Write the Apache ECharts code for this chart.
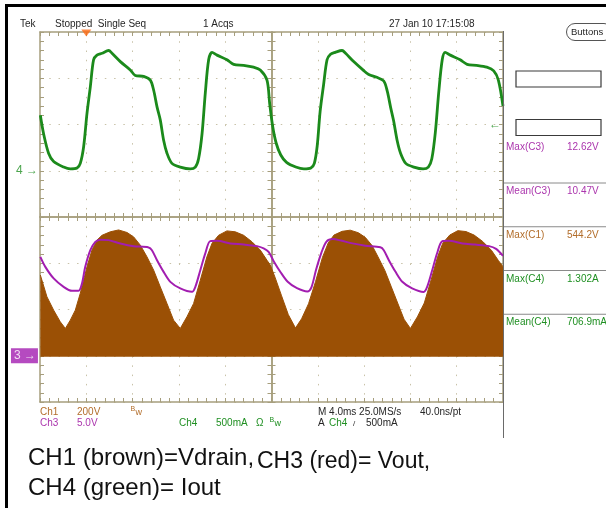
<!DOCTYPE html>
<html>
<head>
<meta charset="utf-8">
<title>Tek capture</title>
<script src="https://cdn.jsdelivr.net/npm/echarts@6.0.0/dist/echarts.min.js"></script>
<style>
  html, body { margin: 0; padding: 0; background: #ffffff; }
  #chart { width: 606px; height: 508px; }
</style>
</head>
<body>
<div id="chart"></div>
<script>
// Time base: 4 ms/div, 10 divisions, trigger at t = 0
const T_MIN = -4;
const T_MAX = 36;

// CH1 drain voltage envelope (V), 200 V/div
const ch1Envelope = [
  [-3.97,349],[-3.40,255],[-2.82,197],[-2.25,147],[-1.81,118],[-1.38,154],[-0.95,197],[-0.52,270],
  [0.06,385],[0.49,457],[0.92,500],[1.36,521],[2.07,536],[2.79,544],[3.52,533],[4.09,514],
  [4.67,478],[5.24,428],[5.82,370],[6.39,298],[6.97,226],[7.54,154],[8.12,118],[8.70,169],
  [9.27,226],[9.85,327],[10.42,428],[10.86,486],[11.43,521],[12.15,540],[12.87,536],[13.59,521],
  [14.31,493],[15.03,457],[15.61,413],[15.90,392],[16.30,340],[16.85,262],[17.45,178],[18.07,120],
  [18.60,160],[19.20,225],[19.80,320],[20.40,425],[20.90,488],[21.40,522],[22.10,538],[22.80,543],
  [23.50,532],[24.10,512],[24.70,476],[25.20,428],[25.80,368],[26.35,298],[26.90,228],[27.45,158],
  [28.00,118],[28.60,168],[29.20,228],[29.80,330],[30.35,428],[30.80,487],[31.40,522],[32.10,541],
  [32.80,537],[33.50,522],[34.25,494],[35.00,456],[35.60,412],[36.00,385]
];

// CH3 output voltage (V), 5 V/div
const ch3Vout = [
  [-3.97,10.69],[-3.54,9.61],[-2.82,8.36],[-1.96,7.45],[-1.24,7.02],[-0.67,7.02],[-0.37,7.82],[-0.09,9.61],
  [0.35,11.41],[0.78,12.31],[1.21,12.55],[1.93,12.50],[2.94,12.14],[4.09,11.85],[5.38,11.71],[5.67,11.41],
  [6.11,10.33],[6.68,9.07],[7.26,7.99],[8.12,7.28],[9.13,6.91],[9.42,7.45],[9.85,9.25],[10.28,11.06],
  [10.71,12.39],[11.29,12.42],[12.44,12.14],[13.59,12.03],[14.75,11.85],[15.32,11.60],[15.75,11.23],
  [16.20,10.20],[16.80,9.00],[17.40,8.00],[18.20,7.30],[19.10,6.95],[19.45,7.40],[19.85,9.30],[20.30,11.10],
  [20.75,12.35],[21.30,12.62],[22.00,12.45],[23.00,12.15],[24.10,11.90],[25.40,11.72],[25.70,11.40],
  [26.15,10.30],[26.70,9.10],[27.30,8.00],[28.15,7.28],[29.15,6.90],[29.45,7.45],[29.90,9.30],[30.30,11.05],
  [30.75,12.38],[31.30,12.42],[32.50,12.14],[33.60,12.02],[34.80,11.85],[35.40,11.55],[36.00,10.80]
];

// CH4 output current (A), 500 mA/div
const ch4Iout = [
  [-3.97,0.60],[-3.69,0.40],[-3.26,0.19],[-2.82,0.10],[-1.96,0.04],[-1.38,0.02],[-0.80,0.03],[-0.52,0.08],
  [-0.23,0.26],[0.06,0.62],[0.35,0.91],[0.63,1.20],[0.92,1.25],[1.36,1.27],[1.93,1.30],[2.22,1.27],
  [2.94,1.18],[3.80,1.09],[4.23,1.03],[4.95,1.02],[5.53,0.98],[5.82,0.87],[6.11,0.69],[6.39,0.55],
  [6.68,0.33],[6.97,0.19],[7.40,0.08],[8.12,0.04],[8.98,0.02],[9.42,0.04],[9.70,0.13],[10.00,0.40],
  [10.28,0.84],[10.57,1.20],[10.86,1.28],[11.29,1.25],[12.15,1.20],[12.73,1.15],[13.59,1.14],[14.45,1.12],
  [15.03,1.09],[15.61,0.98],[15.84,0.73],[16.10,0.48],[16.40,0.30],[16.80,0.17],[17.30,0.09],[18.10,0.04],
  [18.80,0.02],[19.40,0.03],[19.70,0.08],[19.95,0.27],[20.20,0.64],[20.50,0.93],[20.80,1.20],[21.10,1.26],
  [21.50,1.28],[22.10,1.30],[22.40,1.27],[23.10,1.18],[23.90,1.09],[24.40,1.04],[25.10,1.01],[25.70,0.97],
  [26.00,0.86],[26.30,0.68],[26.55,0.54],[26.85,0.33],[27.15,0.19],[27.60,0.08],[28.30,0.04],[29.10,0.02],
  [29.55,0.04],[29.85,0.13],[30.15,0.41],[30.45,0.85],[30.75,1.20],[31.00,1.28],[31.45,1.25],[32.30,1.20],
  [32.90,1.15],[33.70,1.14],[34.60,1.12],[35.20,1.08],[35.60,0.98],[36.00,0.70]
];

// Trigger: channel 4, rising edge, 500 mA
const triggerLevel = 0.5;

// Measurement readouts
const measNames  = ['Max(C3)', 'Mean(C3)', 'Max(C1)', 'Max(C4)', 'Mean(C4)'];
const measValues = ['12.62V', '10.47V', '544.2V', '1.302A', '706.9mA'];

// Status / scale readouts
const headerTexts = ['Tek', 'Stopped  Single Seq', '1 Acqs', '27 Jan 10 17:15:08'];
const captionTexts = ['CH1 (brown)=Vdrain,', 'CH3 (red)= Vout,', 'CH4 (green)= Iout'];

const C_BROWN = '#9b5005';
const C_BROWN_TXT = '#b26d2a';
const C_PURPLE = '#a21db0';
const C_PURPLE_TXT = '#ab35ad';
const C_GREEN = '#1b8a1b';
const C_GREEN_TXT = '#1f8f22';
const C_TXT = '#262626';
const FRAME = '#a69e7d';
const DOTS = '#c8c2a8';
const SMALL = '10px "Liberation Sans", Arial, sans-serif';
const measColors = [C_PURPLE_TXT, C_PURPLE_TXT, C_BROWN_TXT, C_GREEN_TXT, C_GREEN_TXT];

const chart = echarts.init(document.getElementById('chart'), null, { renderer: 'canvas' });

function tickStyle(inside) {
  return {
    axisTick: { show: true, inside: inside, length: 4, lineStyle: { color: FRAME, width: 1 } },
    minorTick: { show: true, splitNumber: 5, length: 4, lineStyle: { color: FRAME, width: 1 } }
  };
}

function timeAxis(position, opts) {
  return Object.assign({
    type: 'value', gridIndex: 0, position: position,
    min: T_MIN, max: T_MAX, interval: 4,
    axisLine: { show: true, onZero: false, lineStyle: { color: FRAME, width: 1.5 } },
    axisLabel: { show: false },
    splitLine: { show: false },
    minorSplitLine: { show: false }
  }, tickStyle(true), opts || {});
}

function divAxis(position, opts) {
  return Object.assign({
    type: 'value', gridIndex: 0, position: position,
    min: -4, max: 4, interval: 1,
    axisLine: { show: true, onZero: false, lineStyle: { color: FRAME, width: 1.5 } },
    axisLabel: { show: false },
    splitLine: { show: false },
    minorSplitLine: { show: false }
  }, tickStyle(true), opts || {});
}

const xAxes = [
  // 0: bottom frame + vertical dotted graticule
  timeAxis('bottom', { splitLine: { show: true, lineStyle: { color: DOTS, width: 1, type: [1.5, 7.76] } } }),
  // 1: top frame
  timeAxis('top'),
  // 2,3: horizontal centre line, ticks both sides
  timeAxis('bottom', { axisLine: { show: true, onZero: true, onZeroAxisIndex: 0, lineStyle: { color: FRAME, width: 1.5 } } }),
  Object.assign(timeAxis('bottom', { axisLine: { show: true, onZero: true, onZeroAxisIndex: 0, lineStyle: { color: FRAME, width: 1.5 } } }), tickStyle(false)),
  // 4: centred division scale used to place the vertical centre line
  { type: 'value', gridIndex: 0, position: 'bottom', min: -5, max: 5, show: false }
];

const yAxes = [
  // 0: left frame + horizontal dotted graticule
  divAxis('left', { splitLine: { show: true, lineStyle: { color: DOTS, width: 1, type: [1.5, 7.76] } } }),
  // 1: right frame
  divAxis('right'),
  // 2,3: vertical centre line, ticks both sides
  divAxis('left', { axisLine: { show: true, onZero: true, onZeroAxisIndex: 4, lineStyle: { color: FRAME, width: 1.5 } } }),
  Object.assign(divAxis('left', { axisLine: { show: true, onZero: true, onZeroAxisIndex: 4, lineStyle: { color: FRAME, width: 1.5 } } }), tickStyle(false)),
  // 4: CH1 200 V/div, ground one division above bottom
  { type: 'value', gridIndex: 0, min: -200, max: 1400, show: false },
  // 5: CH3 5 V/div
  { type: 'value', gridIndex: 0, min: -5, max: 35, show: false },
  // 6: CH4 500 mA/div, ground one division above centre
  { type: 'value', gridIndex: 0, min: -2.5, max: 1.5, show: false }
];

function txt(x, y, text, color, font, extra) {
  return Object.assign({
    type: 'text', x: x, y: y, z: 100, silent: true,
    style: { text: text, fill: color, font: font || SMALL, textVerticalAlign: 'middle', textAlign: 'left' }
  }, extra || {});
}

const graphics = [];
// outer border of the capture
graphics.push({ type: 'rect', z: 100, shape: { x: 5, y: 4, width: 3, height: 504 }, style: { fill: '#000' } });
graphics.push({ type: 'rect', z: 100, shape: { x: 5, y: 4, width: 601, height: 3 }, style: { fill: '#000' } });
// right edge of the display area
graphics.push({ type: 'line', z: 90, shape: { x1: 503.5, y1: 31, x2: 503.5, y2: 438 }, style: { stroke: '#6a6a6a', lineWidth: 1 } });

// header line
const headerX = [20, 55, 203, 389];
headerTexts.forEach((t, i) => graphics.push(txt(headerX[i], 24.5, t, C_TXT)));
graphics.push({ type: 'rect', z: 100, shape: { x: 566.5, y: 23.5, width: 46, height: 17, r: 8.5 }, style: { fill: '#fff', stroke: '#555', lineWidth: 1 } });
graphics.push(txt(571, 32, 'Buttons', C_TXT, '9.5px "Liberation Sans", Arial, sans-serif'));

// empty readout boxes
graphics.push({ type: 'rect', z: 100, shape: { x: 516, y: 71, width: 85, height: 16 }, style: { fill: '#fff', stroke: '#3a3a3a', lineWidth: 1.2 } });
graphics.push({ type: 'rect', z: 100, shape: { x: 516, y: 119.5, width: 85, height: 16 }, style: { fill: '#fff', stroke: '#3a3a3a', lineWidth: 1.2 } });

// measurement panel
measNames.forEach((name, i) => {
  const y = 147.5 + i * 43.75;
  graphics.push(txt(506, y, name, measColors[i]));
  graphics.push(txt(567, y, measValues[i], measColors[i]));
  if (i < measNames.length - 1) {
    graphics.push({ type: 'line', z: 90, shape: { x1: 504, y1: y + 35.5, x2: 606, y2: y + 35.5 }, style: { stroke: '#8a8a8a', lineWidth: 1 } });
  }
});

// channel scale readouts
const BW_FONT = '7px "Liberation Sans", Arial, sans-serif';
graphics.push(txt(40, 412.5, 'Ch1', C_BROWN_TXT));
graphics.push(txt(77, 412.5, '200V', C_BROWN_TXT));
graphics.push(txt(130.5, 409.5, 'B', C_BROWN_TXT, BW_FONT));
graphics.push(txt(135.5, 413, 'w', C_BROWN_TXT, '9px "Liberation Sans", Arial, sans-serif'));
graphics.push(txt(40, 423.5, 'Ch3', C_PURPLE_TXT));
graphics.push(txt(77, 423.5, '5.0V', C_PURPLE_TXT));
graphics.push(txt(179, 423.5, 'Ch4', C_GREEN_TXT));
graphics.push(txt(216, 423.5, '500mA', C_GREEN_TXT));
graphics.push(txt(256, 423.5, 'Ω', C_GREEN_TXT));
graphics.push(txt(269.5, 420.5, 'B', C_GREEN_TXT, BW_FONT));
graphics.push(txt(274.5, 424, 'w', C_GREEN_TXT, '9px "Liberation Sans", Arial, sans-serif'));
graphics.push(txt(318, 412.5, 'M 4.0ms 25.0MS/s', C_TXT));
graphics.push(txt(420, 412.5, '40.0ns/pt', C_TXT));
graphics.push(txt(318, 423.5, 'A', C_TXT));
graphics.push(txt(329, 423.5, 'Ch4', C_GREEN_TXT));
graphics.push(txt(353, 424, '/', C_TXT, '8px "Liberation Sans", Arial, sans-serif'));
graphics.push(txt(366, 423.5, '500mA', C_TXT));

// caption
const CAP = '"Liberation Sans", Arial, Helvetica, sans-serif';
graphics.push(txt(28, 458.5, captionTexts[0], '#111', '24px ' + CAP));
graphics.push(txt(257, 462, captionTexts[1], '#111', '23px ' + CAP));
graphics.push(txt(28, 488.5, captionTexts[2], '#111', '24px ' + CAP));

function markerSeries(yIndex, point, label, extra) {
  return Object.assign({
    type: 'scatter', xAxisIndex: 0, yAxisIndex: yIndex, clip: false, silent: true,
    data: [point], symbolSize: 0.1, itemStyle: { color: 'rgba(0,0,0,0)' },
    label: label, z: 6, animation: false
  }, extra || {});
}

const option = {
  animation: false,
  backgroundColor: '#ffffff',
  grid: { left: 40, top: 32, width: 463, height: 370, containLabel: false, outerBoundsMode: 'none' },
  xAxis: xAxes,
  yAxis: yAxes,
  graphic: graphics,
  series: [
    {
      name: 'Vdrain', type: 'line', xAxisIndex: 0, yAxisIndex: 4,
      data: ch1Envelope, symbol: 'none', smooth: false, z: 2,
      lineStyle: { color: C_BROWN, width: 1 },
      areaStyle: { color: C_BROWN, opacity: 1, origin: -4 }
    },
    {
      name: 'Vout', type: 'line', xAxisIndex: 0, yAxisIndex: 5,
      data: ch3Vout, symbol: 'none', smooth: 0.3, z: 3,
      lineStyle: { color: C_PURPLE, width: 2 }
    },
    {
      name: 'Iout', type: 'line', xAxisIndex: 0, yAxisIndex: 6,
      data: ch4Iout, symbol: 'none', smooth: 0.3, z: 3,
      lineStyle: { color: C_GREEN, width: 2.8 }
    },
    // trigger position marker
    markerSeries(0, [0, 4], { show: false }, {
      symbol: 'triangle', symbolRotate: 180, symbolSize: [10, 7], symbolOffset: [0, 1],
      itemStyle: { color: '#ff6a13' }
    }),
    // CH4 ground reference
    markerSeries(6, [T_MIN, 0], {
      show: true, position: 'left', distance: 2, formatter: '4 \u2192',
      color: C_GREEN_TXT, font: SMALL
    }),
    // CH3 ground reference
    markerSeries(5, [T_MIN, 0], {
      show: true, position: 'left', distance: 2, formatter: '3 \u2192',
      color: '#ffffff', backgroundColor: C_PURPLE, padding: [2, 2, 1, 3], font: SMALL
    }),
    // trigger level
    markerSeries(6, [T_MAX, triggerLevel], {
      show: true, position: 'left', distance: 2, formatter: '\u2190',
      color: C_GREEN_TXT, font: SMALL
    })
  ]
};

chart.setOption(option);
</script>
</body>
</html>
